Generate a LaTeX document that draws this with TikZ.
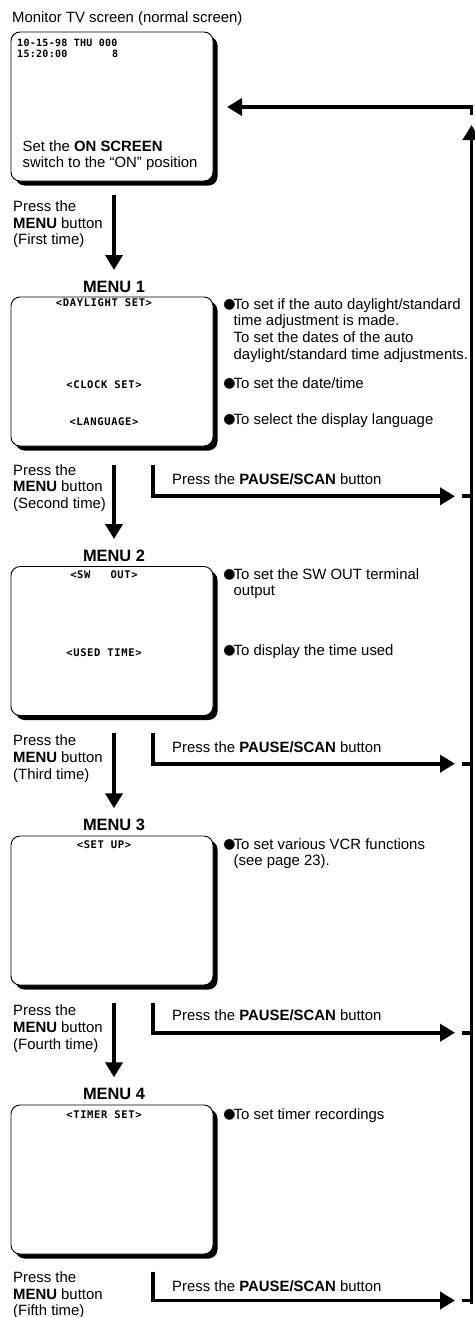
\documentclass[tikz,border=0pt]{standalone}
\usepackage{fontspec}
\setmainfont{Liberation Sans}
\newfontfamily\osd{DejaVu Sans Mono}[LetterSpace=6]
\newfontfamily\osdd{DejaVu Sans Mono}[LetterSpace=3]
\newfontfamily\sym{DejaVu Sans}
\usetikzlibrary{arrows.meta,shadows}
\begin{document}
\begin{tikzpicture}[x=1pt,y=-1pt,
  txt/.style={anchor=base west, inner sep=0pt, font=\fontsize{14.9}{16.7}\selectfont},
  menulbl/.style={anchor=base, inner sep=0pt, font=\fontsize{16.4}{18}\selectfont\bfseries},
  osdlbl/.style={anchor=base, inner sep=0pt, font=\fontsize{10.5}{11}\selectfont\osd\bfseries},
  osdtime/.style={anchor=base west, inner sep=0pt, font=\fontsize{10}{11}\selectfont\osdd\bfseries},
  screenbox/.style={draw, line width=0.9pt, fill=white, rounded corners=9pt,
    minimum width=202pt, minimum height=149pt, inner sep=0pt,
    general shadow={fill=black, shadow xshift=4.5pt, shadow yshift=-4.5pt}},
  bul/.style={anchor=center, inner sep=0pt, font=\fontsize{14}{14}\selectfont\sym},
  flow/.style={line width=3.8pt, -{Triangle[length=15pt,width=17pt]}},
  wire/.style={line width=3.8pt},
]
\useasboundingbox (0,0) rectangle (474,1317);

% title
\node[txt] (title) at (12,22) {Monitor TV screen (normal screen)};

% screens
\node[screenbox] (s0) at (112,106.5) {};
\node[screenbox] (s1) at (112,371.5) {};
\node[screenbox] (s2) at (112,641) {};
\node[screenbox] (s3) at (112,910.5) {};
\node[screenbox] (s4) at (112,1179.5) {};

% screen 0 content
\node[osdtime] (t0a) at (17,46) {10-15-98 THU 000};
\node[osdtime] (t0b) at (17,57) {15:20:00};
\node[osdtime] (t0c) at (111.8,57) {8};
\node[txt] (t0d) at (22.5,151) {Set the \textbf{ON SCREEN}};
\node[txt] (t0e) at (22.5,167.7) {switch to the “ON” position};

% menu titles
\node[menulbl] (m1) at (114,292) {MENU 1};
\node[menulbl] (m2) at (114,561.7) {MENU 2};
\node[menulbl] (m3) at (114,830.7) {MENU 3};
\node[menulbl] (m4) at (114,1099) {MENU 4};

% screen labels
\node[osdlbl] (l1a) at (104,306) {<DAYLIGHT SET>};
\node[osdlbl] (l1b) at (104,388) {<CLOCK SET>};
\node[osdlbl] (l1c) at (104,425) {<LANGUAGE>};
\node[osdlbl] (l2a) at (104,578) {<SW\hspace{20pt}OUT>};
\node[osdlbl] (l2b) at (104,656) {<USED TIME>};
\node[osdlbl] (l3a) at (104,848) {<SET UP>};
\node[osdlbl] (l4a) at (104,1118) {<TIMER SET>};

% descriptions
\node[bul] (b1a) at (229.6,304.5) {●};
\node[txt] (e1a) at (233.5,309) {To set if the auto daylight/standard};
\node[txt] (e1b) at (233.5,325.7) {time adjustment is made.};
\node[txt] (e1c) at (233.5,342.4) {To set the dates of the auto};
\node[txt] (e1d) at (233.5,359.1) {daylight/standard time adjustments.};
\node[bul] (b1b) at (229.6,383.5) {●};
\node[txt] (e1e) at (233.5,388) {To set the date/time};
\node[bul] (b1c) at (229.6,419.5) {●};
\node[txt] (e1f) at (233.5,424) {To select the display language};
\node[bul] (b2a) at (229.6,574.5) {●};
\node[txt] (e2a) at (233.5,579) {To set the SW OUT terminal};
\node[txt] (e2b) at (233.5,595.7) {output};
\node[bul] (b2b) at (229.6,650.5) {●};
\node[txt] (e2c) at (233.5,655) {To display the time used};
\node[bul] (b3a) at (229.6,844.5) {●};
\node[txt] (e3a) at (233.5,849) {To set various VCR functions};
\node[txt] (e3b) at (233.5,865.7) {(see page 23).};
\node[bul] (b4a) at (229.6,1114.5) {●};
\node[txt] (e4a) at (233.5,1119) {To set timer recordings};

% "Press the MENU button" texts
\node[txt] (p1a) at (13,211.3) {Press the};
\node[txt] (p1b) at (13,228) {\textbf{MENU} button};
\node[txt] (p1c) at (13,244.7) {(First time)};
\node[txt] (p2a) at (13,475) {Press the};
\node[txt] (p2b) at (13,491.7) {\textbf{MENU} button};
\node[txt] (p2c) at (13,508.4) {(Second time)};
\node[txt] (p3a) at (13,745.7) {Press the};
\node[txt] (p3b) at (13,762.4) {\textbf{MENU} button};
\node[txt] (p3c) at (13,779.1) {(Third time)};
\node[txt] (p4a) at (13,1015.7) {Press the};
\node[txt] (p4b) at (13,1032.4) {\textbf{MENU} button};
\node[txt] (p4c) at (13,1049.1) {(Fourth time)};
\node[txt] (p5a) at (13,1282.3) {Press the};
\node[txt] (p5b) at (13,1299) {\textbf{MENU} button};
\node[txt] (p5c) at (13,1315.7) {(Fifth time)};

% "Press the PAUSE/SCAN button" texts
\node[txt] (q2) at (172,484) {Press the \textbf{PAUSE/SCAN} button};
\node[txt] (q3) at (172,752.7) {Press the \textbf{PAUSE/SCAN} button};
\node[txt] (q4) at (172,1020.7) {Press the \textbf{PAUSE/SCAN} button};
\node[txt] (q5) at (172,1291.7) {Press the \textbf{PAUSE/SCAN} button};

% down arrows
\coordinate (d1s) at (114,195);   \coordinate (d1e) at (114,270);
\coordinate (d2s) at (114,465);   \coordinate (d2e) at (114,539);
\coordinate (d3s) at (114,733.3); \coordinate (d3e) at (114,808.3);
\coordinate (d4s) at (114,1002.7);\coordinate (d4e) at (114,1077.3);
\draw[flow] (d1s) -- (d1e);
\draw[flow] (d2s) -- (d2e);
\draw[flow] (d3s) -- (d3e);
\draw[flow] (d4s) -- (d4e);

% pause/scan arrows
\coordinate (r2s) at (153,465);    \coordinate (r2e) at (455,496.3);
\coordinate (r3s) at (153,733.3);  \coordinate (r3e) at (455,763.7);
\coordinate (r4s) at (153,1002.7); \coordinate (r4e) at (455,1032.7);
\coordinate (r5s) at (153,1271.7); \coordinate (r5e) at (455,1300.5);
\draw[flow] (r2s) |- (r2e);
\draw[flow] (r3s) |- (r3e);
\draw[flow] (r4s) |- (r4e);
\draw[flow] (r5s) |- (r5e);

% return bus
\coordinate (busb) at (471.5,1304);
\coordinate (bust) at (471.5,125);
\draw[flow] (busb) -- (bust);
\coordinate (k2) at (462,496.3);   \coordinate (k2b) at (471.5,496.3);
\coordinate (k3) at (462,763.7);   \coordinate (k3b) at (471.5,763.7);
\coordinate (k4) at (462,1032.7);  \coordinate (k4b) at (471.5,1032.7);
\coordinate (k5) at (462,1300.5);  \coordinate (k5b) at (471.5,1300.5);
\draw[wire] (k2) -- (k2b);
\draw[wire] (k3) -- (k3b);
\draw[wire] (k4) -- (k4b);
\draw[wire] (k5) -- (k5b);
\coordinate (ret0) at (471.5,115);
\coordinate (ret1) at (471.5,107);
\coordinate (ret2) at (227,107);
\draw[flow] (ret0) -- (ret1) -- (ret2);
\end{tikzpicture}
\end{document}
